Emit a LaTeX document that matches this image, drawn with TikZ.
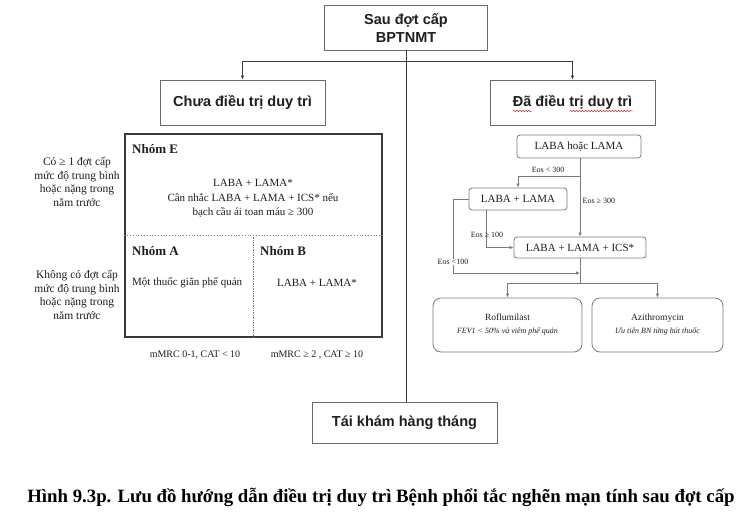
\documentclass[tikz,border=0pt]{standalone}
\usepackage{fontspec}
\setmainfont{Liberation Serif}
\newfontfamily\arialf{Liberation Sans}
\usetikzlibrary{arrows.meta,calc,decorations.pathmorphing}
\definecolor{boxgray}{HTML}{6A6A6A}
\definecolor{linegray}{HTML}{3A3A3A}
\definecolor{rgray}{HTML}{7A7A7A}
\definecolor{txt}{HTML}{1E1E1E}
\definecolor{spell}{HTML}{D03030}
\begin{document}
\begin{tikzpicture}[x=1pt,y=-1pt,
  hdr/.style={draw=boxgray, line width=0.9pt, text=txt, font=\arialf\bfseries\fontsize{14.5}{18}\selectfont, align=center, inner sep=0pt},
  rbox/.style={draw=rgray, line width=0.8pt, rounded corners=3pt, text=txt, font=\fontsize{11}{13}\selectfont, align=center, inner sep=0pt},
  obox/.style={draw=rgray, line width=0.8pt, rounded corners=8pt, text=txt, align=center, inner sep=0pt},
  body/.style={text=txt, font=\fontsize{11}{14.5}\selectfont, align=center, inner sep=0pt},
  side/.style={text=txt, font=\fontsize{11.5}{13.5}\selectfont, align=center, inner sep=0pt},
  grp/.style={text=txt, font=\bfseries\fontsize{13}{15}\selectfont, anchor=west, inner sep=0pt},
  eos/.style={text=txt, font=\fontsize{8}{9}\selectfont, inner sep=0.5pt},
  main/.style={draw=linegray, line width=0.9pt},
  rline/.style={draw=rgray, line width=0.8pt},
  arr/.style={-{Latex[length=4pt,width=3.5pt]}},
  squig/.style={draw=spell, line width=0.5pt, decorate, decoration={snake, amplitude=0.7pt, segment length=3pt}},
]
\useasboundingbox[fill=white] (0,0) rectangle (752,517);

% top level
\node[hdr, minimum width=163pt, minimum height=45pt] (top) at (406,27.5) {Sau đợt cấp\\BPTNMT};
\node[hdr, minimum width=165pt, minimum height=45pt] (chua) at (242.5,102.5) {Chưa điều trị duy trì};
\node[hdr, minimum width=165pt, minimum height=45pt] (da) at (572.5,102.5) {Đã điều trị duy trì};
\node[hdr, minimum width=185pt, minimum height=41pt] (tai) at (404.5,422.5) {Tái khám hàng tháng};

% spell-check underlines
\path[squig] ($(da.center)+(-59.5,8.5)$) -- ($(da.center)+(-41,8.5)$);
\path[squig] ($(da.center)+(-3,8.5)$) -- ($(da.center)+(60,8.5)$);

\coordinate (j) at (406,61);
\draw[main] (top.south) -- (top.south |- tai.north);
\draw[main, arr] (j) -| (chua.north);
\draw[main, arr] (j) -| (da.north);

% left table
\node[draw=linegray, line width=1.4pt, minimum width=257pt, minimum height=203pt, inner sep=0pt] (tbl) at (253.5,235.5) {};
\coordinate (mid) at (253,235);
\draw[draw=rgray, line width=0.8pt, dotted] (tbl.west |- mid) -- (tbl.east |- mid);
\draw[draw=rgray, line width=0.7pt, densely dotted] (mid) -- (mid |- tbl.south);

\node[grp] (ne) at (132,149) {Nhóm E};
\node[body] (nebody) at (253,198.5) {LABA + LAMA*\\Cân nhắc LABA + LAMA + ICS* nếu\\bạch cầu ái toan máu ≥ 300};
\node[grp] (na) at (132,251) {Nhóm A};
\node[body, anchor=west] (nabody) at (132,283) {Một thuốc giãn phế quản};
\node[grp] (nb) at (260,251) {Nhóm B};
\node[body] (nbbody) at (317,283) {LABA + LAMA*};

\node[side] (s1) at (77,182) {Có ≥ 1 đợt cấp\\mức độ trung bình\\hoặc nặng trong\\năm trước};
\node[side] (s2) at (77,295) {Không có đợt cấp\\mức độ trung bình\\hoặc nặng trong\\năm trước};

\node[body, font=\fontsize{10}{12}\selectfont] (m1) at (195,355) {mMRC 0-1, CAT < 10};
\node[body, font=\fontsize{10}{12}\selectfont] (m2) at (317,355) {mMRC ≥ 2 , CAT ≥ 10};

% right flow
\node[rbox, minimum width=124pt, minimum height=23pt] (lhl) at (579,146.5) {LABA hoặc LAMA};
\node[rbox, minimum width=98pt, minimum height=22pt] (ll) at (518,199) {LABA + LAMA};
\node[rbox, minimum width=132pt, minimum height=21pt] (lli) at (580,247.5) {LABA + LAMA + ICS*};

\coordinate (c300) at (580,176);
\draw[rline, arr] (lhl.south -| c300) -- (lli.north -| c300);
\draw[rline, arr] (c300) -| (ll.north);
\node[eos] (l300) at (548,170) {Eos < 300};
\node[eos, anchor=west] (g300) at (582,201) {Eos ≥ 300};

\coordinate (e100) at (486,247.5);
\draw[rline, arr] (ll.south -| e100) |- (lli.west);
\node[eos] (g100) at (487,235) {Eos ≥ 100};

\coordinate (e100b) at (453,273);
\draw[rline, arr] (ll.west) -| (e100b) -- (e100b -| c300);
\node[eos, fill=white] (l100) at (453,262) {Eos <100};

\node[obox, minimum width=149pt, minimum height=54pt] (rof) at (507.5,325) {{\fontsize{9.5}{11}\selectfont Roflumilast}\\[1pt]{\itshape\fontsize{8}{10}\selectfont FEV1 < 50\% và viêm phế quản}};
\node[obox, minimum width=131pt, minimum height=54pt] (azi) at (657.5,325) {{\fontsize{9.5}{11}\selectfont Azithromycin}\\[1pt]{\itshape\fontsize{8}{10}\selectfont Ưu tiên BN từng hút thuốc}};

\coordinate (j2) at (580,283);
\draw[rline] (lli.south -| c300) -- (j2);
\draw[rline, arr] (j2) -| (rof.north);
\draw[rline, arr] (j2) -| (azi.north);

% caption
\node[text=black, font=\bfseries\fontsize{18.8}{22}\selectfont, inner sep=0pt] (cap) at (381,497) {Hình 9.3p. Lưu đồ hướng dẫn điều trị duy trì Bệnh phổi tắc nghẽn mạn tính sau đợt cấp};
\end{tikzpicture}
\end{document}
